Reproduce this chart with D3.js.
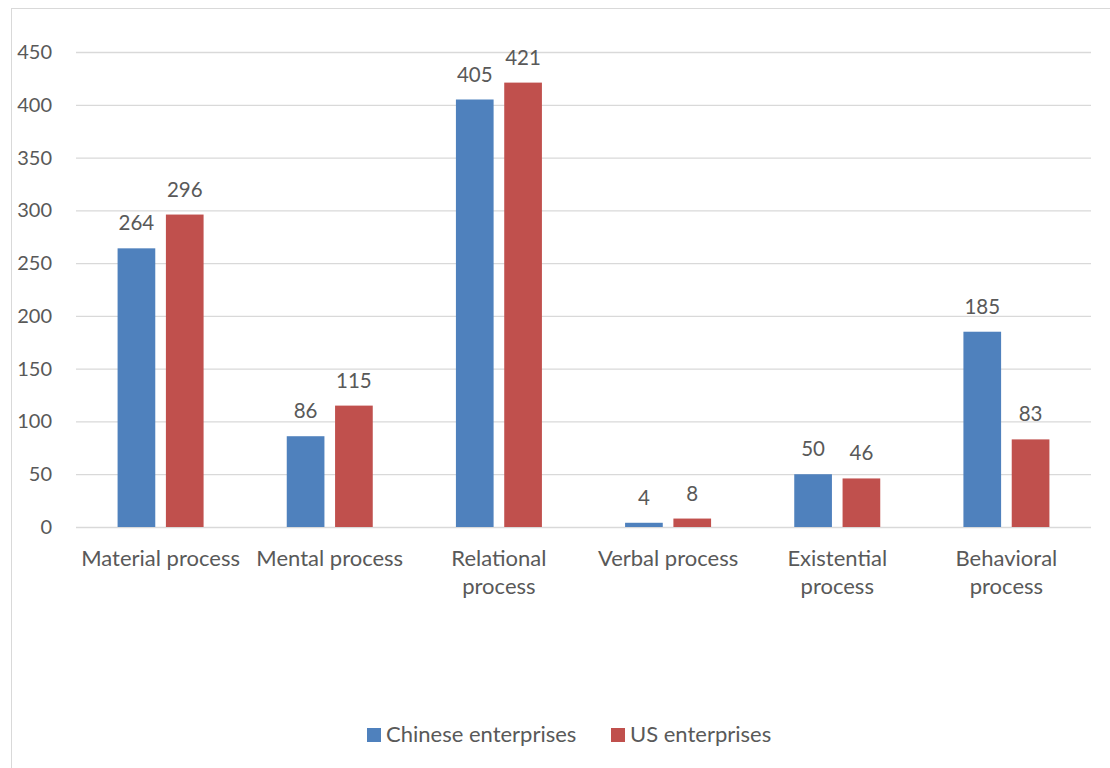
<!DOCTYPE html>
<html>
<head>
<meta charset="utf-8">
<script src="https://cdn.jsdelivr.net/npm/d3@7"></script>
<style>
  body { margin: 0; background: #fff; }
  text { font-family: Lato, "Open Sans", sans-serif; fill: #595959; }
</style>
</head>
<body>
<svg id="chart" width="1110" height="768"></svg>
<script>
const categories = [
  ['Material process'],
  ['Mental process'],
  ['Relational', 'process'],
  ['Verbal process'],
  ['Existential', 'process'],
  ['Behavioral', 'process']
];
const seriesNames = ['Chinese enterprises', 'US enterprises'];
const chinese = [264, 86, 405, 4, 50, 185];
const us = [296, 115, 421, 8, 46, 83];
const yTicks = [0, 50, 100, 150, 200, 250, 300, 350, 400, 450];
const colors = ['#4f81bd', '#c0504d'];

const svg = d3.select('#chart');

// outer chart frame
svg.append('rect')
  .attr('x', 11.5).attr('y', 8.5)
  .attr('width', 1110).attr('height', 800)
  .attr('fill', 'none')
  .attr('stroke', '#d9d9d9');

const plotLeft = 76, plotRight = 1091, plotTop = 52, plotBottom = 527;

const x = d3.scaleBand()
  .domain(d3.range(categories.length))
  .range([plotLeft, plotRight]);

const inner = d3.scaleBand()
  .domain([0, 1])
  .range([0, 86])
  .paddingInner(0.22);

const y = d3.scaleLinear()
  .domain([0, 450])
  .range([plotBottom, plotTop]);

// horizontal grid lines
svg.append('g')
  .attr('transform', `translate(${plotLeft},0)`)
  .call(d3.axisLeft(y).tickValues(yTicks).tickSize(-(plotRight - plotLeft)).tickFormat(''))
  .call(g => g.select('.domain').remove())
  .call(g => g.selectAll('line').attr('stroke', '#d9d9d9').attr('stroke-width', 1.3));

// y tick labels
svg.append('g')
  .selectAll('text')
  .data(yTicks)
  .enter()
  .append('text')
  .attr('x', 52)
  .attr('y', d => y(d) + 7)
  .attr('text-anchor', 'end')
  .attr('font-size', '20px')
  .text(d => d);

const series = [chinese, us];

const groups = svg.selectAll('.series')
  .data(series)
  .enter()
  .append('g')
  .attr('class', 'series');

groups.each(function (vals, si) {
  const g = d3.select(this);
  const bx = i => x(i) + (x.bandwidth() - 86) / 2 + inner(si);

  g.selectAll('rect')
    .data(vals)
    .enter()
    .append('rect')
    .attr('x', (d, i) => bx(i))
    .attr('y', d => y(d))
    .attr('width', inner.bandwidth())
    .attr('height', d => y(0) - y(d))
    .attr('fill', colors[si]);

  g.selectAll('text')
    .data(vals)
    .enter()
    .append('text')
    .attr('x', (d, i) => bx(i) + inner.bandwidth() / 2)
    .attr('y', d => y(d) - 18)
    .attr('text-anchor', 'middle')
    .attr('font-size', '20.5px')
    .text(d => d);
});

// category labels
const catLabels = svg.append('g')
  .selectAll('text')
  .data(categories)
  .enter()
  .append('text')
  .attr('x', (d, i) => x(i) + x.bandwidth() / 2)
  .attr('y', 566)
  .attr('text-anchor', 'middle')
  .attr('font-size', '22px');

catLabels.selectAll('tspan')
  .data(d => d)
  .enter()
  .append('tspan')
  .attr('x', function () { return d3.select(this.parentNode).attr('x'); })
  .attr('dy', (d, i) => i === 0 ? 0 : 28)
  .text(d => d);

// legend
const legendX = [367, 611];
const legend = svg.append('g')
  .selectAll('g')
  .data(seriesNames)
  .enter()
  .append('g')
  .attr('transform', (d, i) => `translate(${legendX[i]},728)`);

legend.append('rect')
  .attr('width', 14).attr('height', 14)
  .attr('fill', (d, i) => colors[i]);

legend.append('text')
  .attr('x', 19)
  .attr('y', 14)
  .attr('font-size', '22px')
  .text(d => d);
</script>
</body>
</html>
